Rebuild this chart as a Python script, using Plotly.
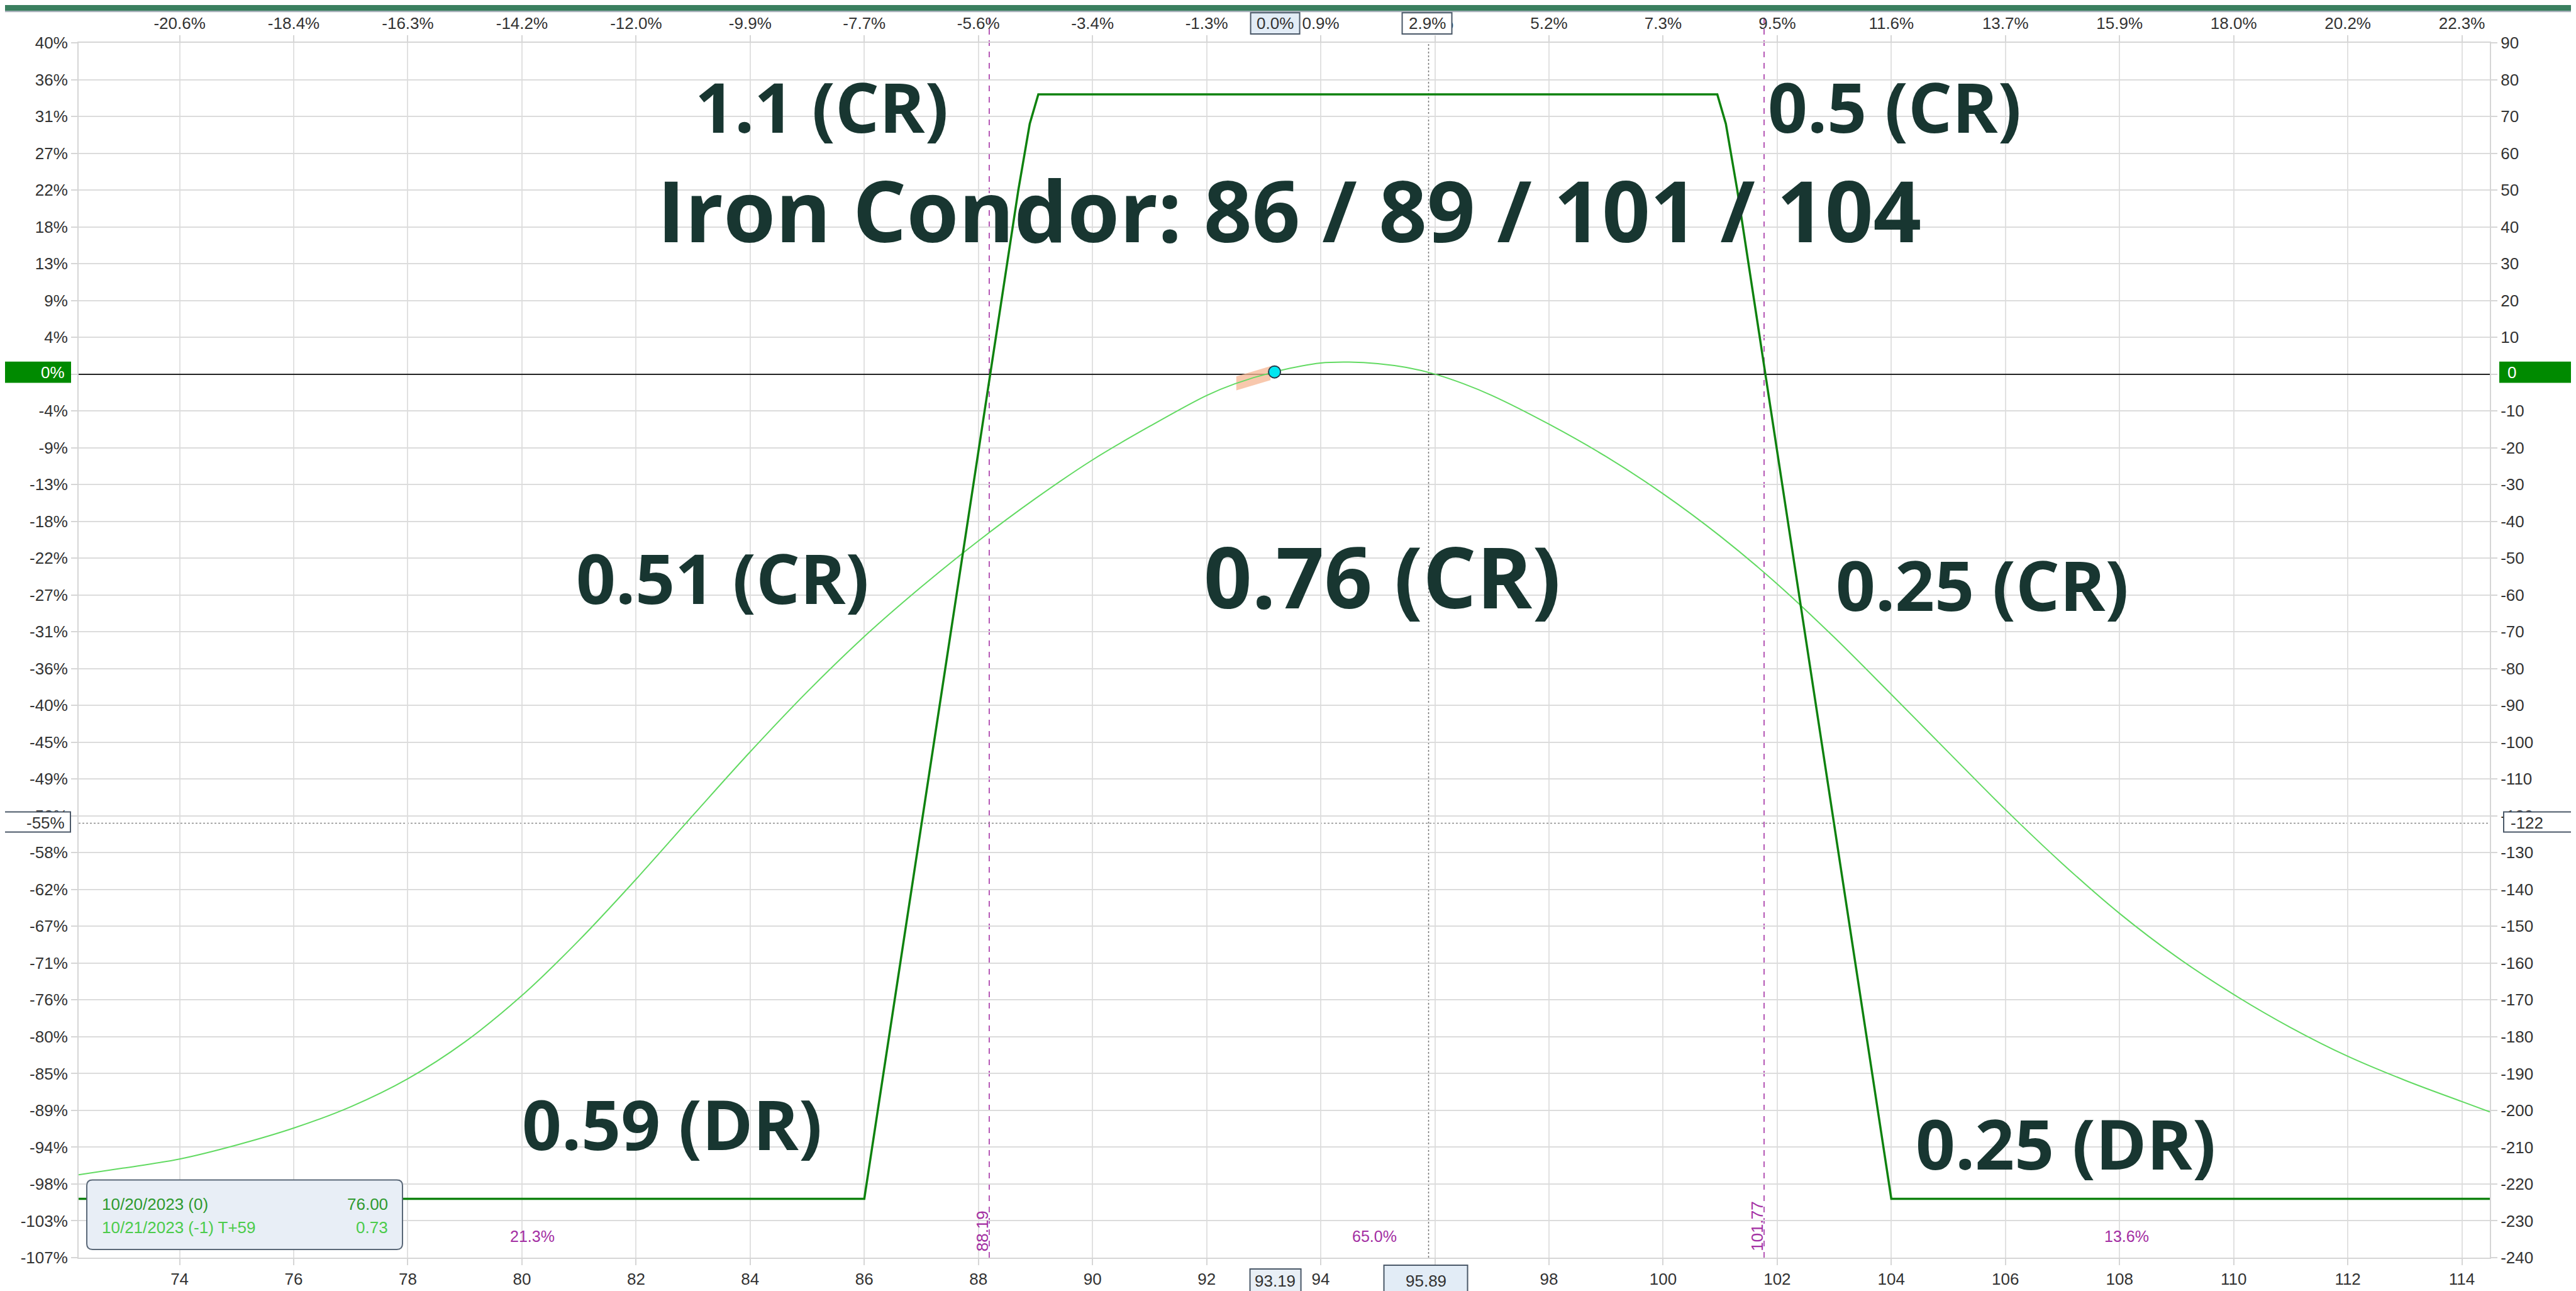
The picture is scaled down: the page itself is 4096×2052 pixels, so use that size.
import plotly.graph_objects as go
import numpy as np

# ---------------- data ----------------
# expiration P/L (10/20/2023) for Iron Condor 86 / 89 / 101 / 104
exp_x = [72.23, 86.0, 88.7, 88.9, 89.05, 100.95, 101.1, 101.3, 104.0, 114.49]
exp_y = [-224, -224, 50, 68, 76, 76, 68, 50, -224, -224]

# T+59 P/L curve (10/21/2023)
t_x = [72.23, 73, 74, 75, 76, 77, 78, 79, 80, 81, 82, 83, 84, 85, 86, 87, 88, 89, 90, 91,
       92, 92.5, 93.19, 94, 94.5, 95, 95.5, 96, 96.5, 97, 98, 99, 100, 101, 102, 103, 104,
       105, 106, 107, 108, 109, 110, 111, 112, 113, 114, 114.49]
t_y = [-217.5, -215.7, -213.2, -209.4, -204.8, -199, -191.4, -181.4, -168.8, -153.8, -137.2,
       -119.8, -102.6, -86.3, -71.3, -57.8, -45.3, -33.8, -23.3, -14.2, -5.8, -2.6, 0.6, 3.0,
       3.25, 2.85, 1.8, 0, -2.6, -5.8, -13.6, -22.4, -32.5, -44, -57, -71.5, -87, -102.7,
       -118.3, -133, -146.5, -158.3, -168.5, -177.5, -185.3, -191.8, -197.6, -200.4]

x_ticks = [74, 76, 78, 80, 82, 84, 86, 88, 90, 92, 94, 96, 98, 100, 102, 104, 106, 108, 110, 112, 114]
x_bottom_text = ["74", "76", "78", "80", "82", "84", "86", "88", "90", "92", "94", "", "98", "100",
                 "102", "104", "106", "108", "110", "112", "114"]
x_top_text = ["-20.6%", "-18.4%", "-16.3%", "-14.2%", "-12.0%", "-9.9%", "-7.7%", "-5.6%", "-3.4%",
              "-1.3%", "0.9%", "3.0%", "5.2%", "7.3%", "9.5%", "11.6%", "13.7%", "15.9%", "18.0%",
              "20.2%", "22.3%"]
y_ticks = [90, 80, 70, 60, 50, 40, 30, 20, 10, 0, -10, -20, -30, -40, -50, -60, -70, -80, -90,
           -100, -110, -120, -130, -140, -150, -160, -170, -180, -190, -200, -210, -220, -230, -240]
y_left_text = ["40%", "36%", "31%", "27%", "22%", "18%", "13%", "9%", "4%", "0%", "-4%", "-9%",
               "-13%", "-18%", "-22%", "-27%", "-31%", "-36%", "-40%", "-45%", "-49%", "-53%",
               "-58%", "-62%", "-67%", "-71%", "-76%", "-80%", "-85%", "-89%", "-94%", "-98%",
               "-103%", "-107%"]
y_right_text = [str(v) for v in y_ticks]

current_price = 93.19
current_pct = "0.0%"
cursor_price = 95.89
cursor_pct = "2.9%"
cursor_value = -122
cursor_value_pct = "-55%"
breakevens = [88.19, 101.77]
prob_x = [80.18, 94.94, 108.13]
prob_text = ["21.3%", "65.0%", "13.6%"]
prob_y = -234.2

labels = [  # (text, price, value, size)
    ("Iron Condor: 86 / 89 / 101 / 104", 93.445, 42.6, 134),
    ("1.1 (CR)", 85.255, 70.85, 110),
    ("0.5 (CR)", 104.06, 70.85, 110),
    ("0.51 (CR)", 83.52, -57.2, 110),
    ("0.76 (CR)", 95.08, -56.8, 134),
    ("0.25 (CR)", 105.60, -59.0, 110),
    ("0.59 (DR)", 82.63, -205.5, 110),
    ("0.25 (DR)", 107.05, -210.7, 110),
]
legend_rows = [("10/20/2023 (0)", "76.00", "#2f9a2f"),
               ("10/21/2023 (-1) T+59", "0.73", "#4ccc4c")]

# ---------------- layout geometry ----------------
W, H = 4096, 2052
ML, MR, MT, MB = 117, 145, 60, 53
PW, PH = W - ML - MR, H - MT - MB
X_RANGE = [72.23, 114.49]
Y_RANGE = [-240, 90]
TICKFONT = "Liberation Sans, Arial, sans-serif"
BIGFONT = "Open Sans, sans-serif"
DARK = "#183631"
MAGENTA = "#a32fa3"


def fx(px):
    return (px - ML) / PW


def fy(py):
    return 1 - (py - MT) / PH


def px_of(price):
    return ML + (price - X_RANGE[0]) / (X_RANGE[1] - X_RANGE[0]) * PW


def py_of(val):
    return MT + (Y_RANGE[1] - val) / (Y_RANGE[1] - Y_RANGE[0]) * PH


shapes = []
annotations = []


def box(x0, y0, x1, y1, fill, line="#4a5868", lw=2):
    shapes.append(dict(type="rect", xref="paper", yref="paper", x0=fx(x0), x1=fx(x1),
                       y0=fy(y1), y1=fy(y0), fillcolor=fill, line=dict(color=line, width=lw),
                       layer="above"))


def text(px, py, s, size, color, xanchor="center", family=TICKFONT):
    annotations.append(dict(xref="paper", yref="paper", x=fx(px), y=fy(py), text=s,
                            showarrow=False, xanchor=xanchor, yanchor="middle",
                            font=dict(family=family, size=size, color=color)))


fig = go.Figure()

# orange highlight near current price
hx = np.array([92.52, 93.12])
hy = np.interp(hx, t_x, t_y)
fig.add_trace(go.Scatter(x=[hx[0], hx[1], hx[1], hx[0], hx[0]],
                         y=[hy[0] - 1.9, hy[1] - 1.9, hy[1] + 1.9, hy[0] + 1.9, hy[0] - 1.9],
                         fill="toself", fillcolor="rgba(246,182,145,0.75)", mode="none",
                         hoverinfo="skip", showlegend=False))

fig.add_trace(go.Scatter(x=t_x, y=t_y, mode="lines",
                         line=dict(color="#62da62", width=2, shape="spline", smoothing=1.0),
                         showlegend=False, hoverinfo="skip"))
fig.add_trace(go.Scatter(x=exp_x, y=exp_y, mode="lines", line=dict(color="#0f820f", width=3.5),
                         showlegend=False, hoverinfo="skip"))
fig.add_trace(go.Scatter(x=[current_price], y=[float(np.interp(current_price, t_x, t_y))], mode="markers",
                         marker=dict(size=19, color="#00e6f0", line=dict(color="#223a4a", width=2)),
                         showlegend=False, hoverinfo="skip"))
# invisible trace to activate the overlay axes
fig.add_trace(go.Scatter(x=[X_RANGE[0]], y=[0], xaxis="x2", yaxis="y2", mode="markers",
                         marker=dict(opacity=0), showlegend=False, hoverinfo="skip"))

# reference lines
for b in breakevens:
    shapes.append(dict(type="line", xref="x", yref="paper", x0=b, x1=b, y0=0, y1=fy(12),
                       line=dict(color=MAGENTA, width=1.6, dash="dash"), layer="below"))
shapes.append(dict(type="line", xref="x", yref="paper", x0=cursor_price, x1=cursor_price, y0=0, y1=1,
                   line=dict(color="#777777", width=1.5, dash="dot"), layer="below"))
shapes.append(dict(type="line", xref="paper", yref="y", x0=0, x1=1, y0=cursor_value, y1=cursor_value,
                   line=dict(color="#8a8a8a", width=1.5, dash="dot"), layer="below"))

# top band
shapes.append(dict(type="rect", xref="paper", yref="paper", x0=fx(0), x1=fx(W), y0=fy(9), y1=fy(-2),
                   fillcolor="#3a7f5f", line=dict(width=0), layer="above"))
shapes.append(dict(type="rect", xref="paper", yref="paper", x0=fx(0), x1=fx(W), y0=fy(11), y1=fy(9),
                   fillcolor="#9ea8b3", line=dict(width=0), layer="above"))

# zero boxes
y0px = py_of(0)
box(-2, y0px - 20, 105, y0px + 14, "#008a00", line="#008a00", lw=0)
text(97, y0px - 3, "0%", 26, "white", xanchor="right")
box(W - MR + 15, y0px - 20, W - 3, y0px + 14, "#008a00", line="#008a00", lw=0)
text(W - MR + 26, y0px - 3, "0", 26, "white", xanchor="left")

# cursor value boxes
yc = py_of(cursor_value)
box(-2, yc - 18, 104, yc + 14, "white")
text(97, yc - 1, cursor_value_pct, 26, "#333333", xanchor="right")
box(W - MR + 22, yc - 18, W - 6, yc + 14, "white")
text(W - MR + 31, yc - 1, str(cursor_value), 26, "#333333", xanchor="left")

# price boxes (top & bottom)
cx = px_of(current_price)
box(cx - 38, 12, cx + 40, 46, "#e2ecf6")
text(cx + 1, 29, current_pct, 26, "#333333")
box(cx - 39, 2017, cx + 42, 2060, "#e9eff6")
text(cx + 1, 2036, f"{current_price:.2f}", 26, "#333333")
kx = px_of(cursor_price)
box(kx - 42, 12, kx + 37, 46, "white")
text(kx - 2, 29, cursor_pct, 26, "#333333")
box(kx - 71, 2011, kx + 62, 2060, "#e2ecf6")
text(kx - 4, 2036, f"{cursor_price:.2f}", 26, "#333333")

# breakeven labels (rotated)
for b in breakevens:
    annotations.append(dict(x=b, y=-238.6, xref="x", yref="y", text=f"{b:.2f}", textangle=-90,
                            showarrow=False, xanchor="center", yanchor="bottom", xshift=-11,
                            font=dict(family=TICKFONT, size=26, color=MAGENTA)))
# probability labels
for xx, tt in zip(prob_x, prob_text):
    annotations.append(dict(x=xx, y=prob_y, xref="x", yref="y", text=tt, showarrow=False,
                            font=dict(family=TICKFONT, size=25, color=MAGENTA)))

# big labels
for s, xx, yy, sz in labels:
    annotations.append(dict(x=xx, y=yy, xref="x", yref="y", text=s, showarrow=False,
                            xanchor="center", yanchor="middle", yshift=12,
                            font=dict(family=BIGFONT, size=sz, color=DARK, weight=700)))

# legend box (rounded)
lx0, ly0, lx1, ly1, r = 130, 1875, 632, 1986, 9


def P(x, y):
    return f"{fx(x):.6f},{fy(y):.6f}"


path = (f"M {P(lx0 + r, ly0)} L {P(lx1 - r, ly0)} Q {P(lx1, ly0)} {P(lx1, ly0 + r)} "
        f"L {P(lx1, ly1 - r)} Q {P(lx1, ly1)} {P(lx1 - r, ly1)} L {P(lx0 + r, ly1)} "
        f"Q {P(lx0, ly1)} {P(lx0, ly1 - r)} L {P(lx0, ly0 + r)} Q {P(lx0, ly0)} {P(lx0 + r, ly0)} Z")
shapes.append(dict(type="path", xref="paper", yref="paper", path=path, fillcolor="#e8eef6",
                   line=dict(color="#5a6878", width=2), layer="above"))
for i, (name, val, col) in enumerate(legend_rows):
    yy = 1914 + i * 37
    text(152, yy, name, 26, col, xanchor="left")
    text(611, yy, val, 26, col, xanchor="right")

axis_common = dict(ticks="outside", ticklen=10, tickwidth=1.5, tickcolor="#d6d6d6",
                   tickfont=dict(family=TICKFONT, size=26, color="#333333"))

fig.update_layout(
    width=W, height=H, margin=dict(l=ML, r=MR, t=MT, b=MB, pad=0),
    paper_bgcolor="white", plot_bgcolor="white", showlegend=False,
    xaxis=dict(range=X_RANGE, tickmode="array", tickvals=x_ticks, ticktext=x_bottom_text,
               showgrid=True, gridcolor="#e1e1e1", gridwidth=1.5, zeroline=False,
               showline=True, linecolor="#d6d6d6", linewidth=2, **axis_common),
    xaxis2=dict(range=X_RANGE, overlaying="x", side="top", tickmode="array", tickvals=x_ticks,
                ticktext=x_top_text, showgrid=False, zeroline=False, showline=True,
                linecolor="#d6d6d6", linewidth=2, **axis_common),
    yaxis=dict(range=Y_RANGE, tickmode="array", tickvals=y_ticks, ticktext=y_left_text,
               showgrid=True, gridcolor="#dcdcdc", gridwidth=2, zeroline=True,
               zerolinecolor="#222222", zerolinewidth=2, showline=True, linecolor="#d6d6d6",
               linewidth=2, **axis_common),
    yaxis2=dict(range=Y_RANGE, overlaying="y", side="right", tickmode="array", tickvals=y_ticks,
                ticktext=y_right_text, showgrid=False, zeroline=False, showline=True,
                linecolor="#d6d6d6", linewidth=2, **axis_common),
    shapes=shapes, annotations=annotations,
)

fig.write_html("out.html")
